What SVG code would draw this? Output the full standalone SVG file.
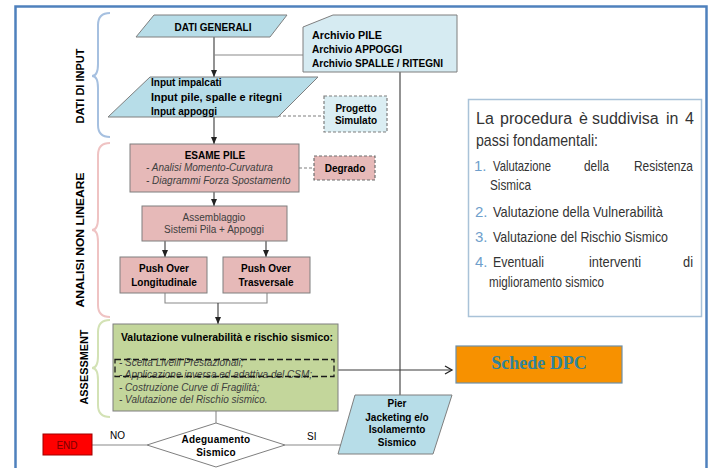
<svg xmlns="http://www.w3.org/2000/svg" width="713" height="468" viewBox="0 0 713 468">
<defs>
<style>
.lb{fill:#b7dde8;stroke:#7f7f7f;stroke-width:1}
.lb2{fill:#d6ebf2;stroke:#7f7f7f;stroke-width:1}
.pk{fill:#e6b9b8;stroke:#7f7f7f;stroke-width:1}
.gr{fill:#c3d69b;stroke:#7f7f7f;stroke-width:1}
.t{font-family:"Liberation Sans",Arial,sans-serif;font-size:10px;fill:#000}
.b{font-weight:bold}
.i{font-style:italic;fill:#404040}
.c{text-anchor:middle}
.ln{stroke:#3a3a3a;stroke-width:1.1;fill:none}
.gl{stroke:#8a8a8a;stroke-width:1.1;fill:none}
.dash{stroke:#7f7f7f;stroke-width:1.2;stroke-dasharray:3 2;fill:none}
.cal{font-family:"Liberation Sans",Arial,sans-serif;fill:#333333;font-size:17px}
.cs{font-size:15px}
.num{fill:#6f9fcc}
.br{fill:none;stroke-width:2}
</style>
<marker id="ah" markerWidth="7" markerHeight="7" refX="7" refY="3.5" orient="auto" markerUnits="userSpaceOnUse"><path d="M0,0.5 L7,3.5 L0,6.5 Z" fill="#222"/></marker>
<marker id="oa" markerWidth="10" markerHeight="10" refX="8" refY="5" orient="auto" markerUnits="userSpaceOnUse"><path d="M1,1 L8,5 L1,9" fill="none" stroke="#222" stroke-width="1.3"/></marker>
</defs>
<rect x="0" y="0" width="713" height="468" fill="#ffffff"/>
<rect id="frame" x="15.5" y="6.5" width="691" height="470" fill="none" stroke="#4f81bd" stroke-width="2.5"/>

<g id="brackets">
<path class="br" stroke="#a6c0e0" d="M110,13 Q98,13 98,25 L98,64 Q98,76 92,76 Q98,76 98,88 L98,125 Q98,137 110,137"/>
<text class="t b" transform="translate(84,86) rotate(-90)" text-anchor="middle" font-size="11" textLength="75" lengthAdjust="spacingAndGlyphs">DATI DI INPUT</text>
<path class="br" stroke="#efc3c3" d="M110,143 Q98,143 98,155 L98,218 Q98,230 92,230 Q98,230 98,242 L98,305 Q98,317 110,317"/>
<text class="t b" transform="translate(84,240) rotate(-90)" text-anchor="middle" font-size="11" textLength="135" lengthAdjust="spacingAndGlyphs">ANALISI NON LINEARE</text>
<path class="br" stroke="#d3e2b5" d="M110,320 Q98,320 98,332 L98,356 Q98,368 92,368 Q98,368 98,380 L98,405 Q98,417 110,417"/>
<text class="t b" transform="translate(88,367) rotate(-90)" text-anchor="middle" font-size="11" textLength="75" lengthAdjust="spacingAndGlyphs">ASSESSMENT</text>
</g>

<g id="connectors">
<line class="ln" x1="214" y1="37" x2="214" y2="77" marker-end="url(#ah)"/>
<line class="gl" x1="214" y1="55" x2="303" y2="55"/>
<line class="ln" x1="214" y1="117" x2="214" y2="144" marker-end="url(#ah)"/>
<path class="dash" d="M222,107 L222,116 L324,116"/>
<line class="ln" x1="214" y1="192" x2="214" y2="206" marker-end="url(#ah)"/>
<line class="dash" x1="299" y1="168" x2="314" y2="168"/>
<line class="ln" x1="165" y1="241" x2="165" y2="257" marker-end="url(#ah)"/>
<line class="ln" x1="266" y1="241" x2="266" y2="257" marker-end="url(#ah)"/>
<path class="gl" d="M165,293 L165,303 L267,303 L267,293"/>
<line class="ln" x1="218" y1="303" x2="218" y2="324" marker-end="url(#ah)"/>
<line class="gl" x1="216" y1="411" x2="216" y2="423"/>
<line class="gl" x1="147" y1="445" x2="92" y2="445"/>
<line class="gl" x1="285" y1="445" x2="346" y2="445"/>
<line class="ln" x1="400" y1="72" x2="400" y2="395"/>
<line class="ln" x1="334" y1="370" x2="452" y2="370" marker-end="url(#oa)"/>
<text class="t" x="110" y="439">NO</text>
<text class="t" x="307" y="440">SI</text>
</g>

<g id="dati-generali">
<polygon class="lb" points="154,15 287,15 270,37 136,37"/>
<text class="t b c" x="213" y="31" font-size="10.5" textLength="77" lengthAdjust="spacingAndGlyphs">DATI GENERALI</text>
</g>

<g id="archivio">
<polygon class="lb2" points="333,15 457,15 457,72 303,72 303,27"/>
<text class="t b" x="312" y="39" font-size="10.5" textLength="70" lengthAdjust="spacingAndGlyphs">Archivio PILE</text>
<text class="t b" x="312" y="53" font-size="10.5" textLength="90" lengthAdjust="spacingAndGlyphs">Archivio APPOGGI</text>
<text class="t b" x="312" y="67" font-size="10.5" textLength="131" lengthAdjust="spacingAndGlyphs">Archivio SPALLE / RITEGNI</text>
</g>

<g id="input">
<polygon class="lb" points="150,77 318,77 278,117 108,117"/>
<text class="t b" x="151" y="86" font-size="11">Input impalcati</text>
<text class="t b" x="151" y="101" font-size="11" textLength="131" lengthAdjust="spacingAndGlyphs">Input pile, spalle e ritegni</text>
<text class="t b" x="151" y="115" font-size="11">Input appoggi</text>
</g>

<g id="progetto-simulato">
<rect x="324" y="96" width="63" height="36" fill="#dbeef3" stroke="#7f7f7f" stroke-width="1.2" stroke-dasharray="3 2"/>
<text class="t b c" x="356" y="112">Progetto</text>
<text class="t b c" x="356" y="124">Simulato</text>
</g>

<g id="esame-pile">
<rect class="pk" x="130" y="144" width="169" height="48"/>
<text class="t b c" x="215" y="159" font-size="10.5">ESAME PILE</text>
<text class="t i" x="146" y="171">- Analisi  Momento-Curvatura</text>
<text class="t i" x="146" y="184">- Diagrammi Forza Spostamento</text>
</g>

<g id="degrado">
<rect x="314" y="156" width="61" height="24" fill="#e6b9b8" stroke="#6f6f6f" stroke-width="1.2" stroke-dasharray="3 2"/>
<text class="t b c" x="345" y="172">Degrado</text>
</g>

<g id="assemblaggio">
<rect class="pk" x="142" y="206" width="145" height="35"/>
<text class="t c" x="214" y="221" style="fill:#404040">Assemblaggio</text>
<text class="t c" x="214" y="233" style="fill:#404040">Sistemi Pila + Appoggi</text>
</g>

<g id="push-long">
<rect class="pk" x="120" y="257" width="87" height="36"/>
<text class="t b c" x="164" y="272">Push Over</text>
<text class="t b c" x="164" y="286">Longitudinale</text>
</g>

<g id="push-trasv">
<rect class="pk" x="223" y="257" width="87" height="36"/>
<text class="t b c" x="266" y="272">Push Over</text>
<text class="t b c" x="266" y="286">Trasversale</text>
</g>

<g id="valutazione">
<rect class="gr" x="113" y="324" width="225" height="87"/>
<text class="t b" x="121" y="341" font-size="10.5" textLength="212" lengthAdjust="spacingAndGlyphs">Valutazione vulnerabilità e rischio sismico:</text>
<text class="t i" x="119" y="366" font-size="10.5">-  Scelta Livelli Prestazionali;</text>
<text class="t i" x="119" y="378" font-size="10.5">-  Applicazione inversa ed adattiva del CSM;</text>
<text class="t i" x="119" y="391" font-size="10.5">-  Costruzione Curve di Fragilità;</text>
<text class="t i" x="119" y="403" font-size="10.5">-  Valutazione del Rischio sismico.</text>
<rect x="115" y="359.5" width="219" height="17" fill="none" stroke="#1a1a1a" stroke-width="1.3" stroke-dasharray="6 3"/>
</g>

<g id="schede-dpc">
<rect x="456" y="346" width="166" height="37" fill="#f79100" stroke="#6d8fa8" stroke-width="1.2"/>
<text x="539" y="369" text-anchor="middle" font-family="'Liberation Serif','Times New Roman',serif" font-weight="bold" font-size="18" fill="#31849b">Schede DPC</text>
</g>

<g id="adeguamento">
<polygon points="216,423 285,445 216,467 147,445" fill="#ffffff" stroke="#7f7f7f" stroke-width="1"/>
<text class="t b c" x="216" y="443" font-size="9" letter-spacing="0.2">Adeguamento</text>
<text class="t b c" x="216" y="456" font-size="9" letter-spacing="0.2">Sismico</text>
</g>

<g id="end">
<rect x="43" y="434" width="49" height="21" fill="#ff0000" stroke="#a00000" stroke-width="1"/>
<text class="t c" x="67" y="449" style="fill:#7a0000">END</text>
</g>

<g id="pier">
<polygon class="lb" points="355,395 452,395 433,454 338,454"/>
<text class="t b c" x="397" y="407">Pier</text>
<text class="t b c" x="397" y="421">Jacketing e/o</text>
<text class="t b c" x="397" y="433">Isolamernto</text>
<text class="t b c" x="397" y="446">Sismico</text>
</g>

<g id="procedura">
<rect x="468.5" y="99.5" width="233" height="217" fill="#ffffff" stroke="#a9c2d8" stroke-width="1.5"/>
<text class="cal" y="124" style="font-size:16px"><tspan x="476">La</tspan><tspan x="500">procedura</tspan><tspan x="579">è</tspan><tspan x="592">suddivisa</tspan><tspan x="666">in</tspan><tspan x="685">4</tspan></text>
<text class="cal" x="476" y="146" textLength="122" lengthAdjust="spacingAndGlyphs">passi fondamentali:</text>
<text class="cal cs num" x="474" y="171">1.</text>
<text class="cal cs" x="493" y="171" textLength="58" lengthAdjust="spacingAndGlyphs">Valutazione</text>
<text class="cal cs" x="584" y="171" textLength="25" lengthAdjust="spacingAndGlyphs">della</text>
<text class="cal cs" x="634" y="171" textLength="59" lengthAdjust="spacingAndGlyphs">Resistenza</text>
<text class="cal cs" x="490" y="190" textLength="41" lengthAdjust="spacingAndGlyphs">Sismica</text>
<text class="cal cs num" x="475" y="217">2.</text>
<text class="cal cs" x="493" y="217" textLength="170" lengthAdjust="spacingAndGlyphs">Valutazione della Vulnerabilità</text>
<text class="cal cs num" x="475" y="242">3.</text>
<text class="cal cs" x="493" y="242" textLength="175" lengthAdjust="spacingAndGlyphs">Valutazione del Rischio Sismico</text>
<text class="cal cs num" x="475" y="267">4.</text>
<text class="cal cs" x="493" y="267" textLength="51" lengthAdjust="spacingAndGlyphs">Eventuali</text>
<text class="cal cs" x="589" y="267" textLength="52" lengthAdjust="spacingAndGlyphs">interventi</text>
<text class="cal cs" x="683" y="267" textLength="10" lengthAdjust="spacingAndGlyphs">di</text>
<text class="cal cs" x="489" y="287" textLength="115" lengthAdjust="spacingAndGlyphs">miglioramento sismico</text>
</g>
</svg>
